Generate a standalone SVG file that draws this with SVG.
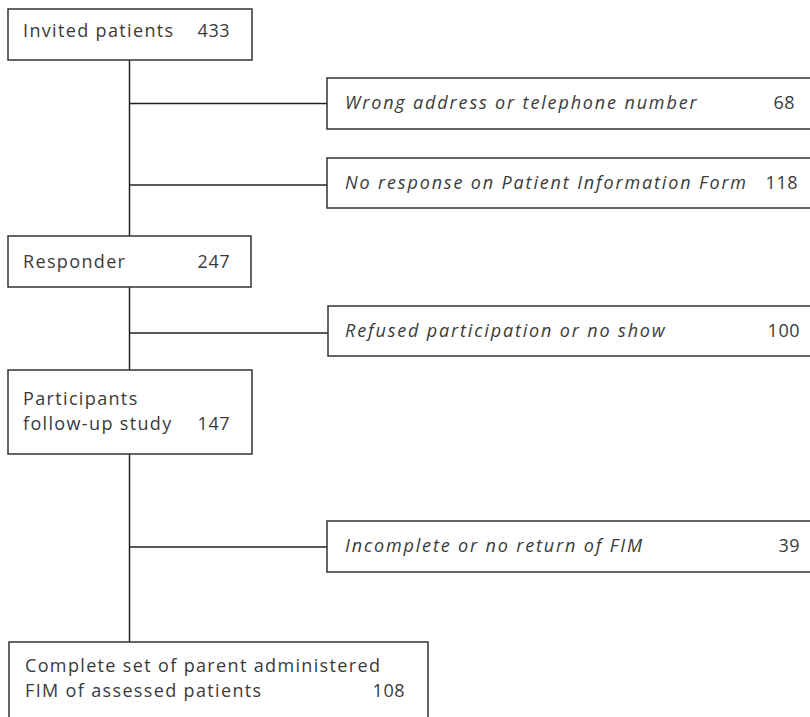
<svg xmlns="http://www.w3.org/2000/svg" width="810" height="717" viewBox="0 0 810 717">
<style>
.box{fill:#fff;stroke:#333;stroke-width:1.5}
.t{font-family:"Open Sans","Noto Sans","Liberation Sans",sans-serif;font-size:18px;letter-spacing:1.35px;fill:#3a3a3a}
.i{font-style:italic;letter-spacing:1.85px}
.n{text-anchor:end;letter-spacing:0.5px}
.c{stroke:#222;stroke-width:1.5;fill:none}
</style>
<rect width="810" height="717" fill="#fff"/>
<g id="connectors">
<line class="c" x1="129.5" y1="60" x2="129.5" y2="236"/>
<line class="c" x1="129.5" y1="103.5" x2="327" y2="103.5"/>
<line class="c" x1="129.5" y1="185" x2="327" y2="185"/>
<line class="c" x1="129.5" y1="287" x2="129.5" y2="370"/>
<line class="c" x1="129.5" y1="333" x2="328" y2="333"/>
<line class="c" x1="129.5" y1="454" x2="129.5" y2="642"/>
<line class="c" x1="129.5" y1="547" x2="327" y2="547"/>
</g>
<g id="invited">
<rect class="box" x="8" y="9" width="244" height="51"/>
<text class="t" x="23" y="37">Invited patients</text>
<text class="t n" x="230" y="37">433</text>
</g>
<g id="wrong-address">
<rect class="box" x="327" y="78" width="500" height="51"/>
<text class="t i" x="345" y="109">Wrong address or telephone number</text>
<text class="t n" x="795" y="109">68</text>
</g>
<g id="no-response">
<rect class="box" x="327" y="158" width="500" height="50"/>
<text class="t i" x="345" y="189">No response on Patient Information Form</text>
<text class="t n" x="798" y="189">118</text>
</g>
<g id="responder">
<rect class="box" x="8" y="236" width="243" height="51"/>
<text class="t" x="23" y="268">Responder</text>
<text class="t n" x="230" y="268">247</text>
</g>
<g id="refused">
<rect class="box" x="328" y="306" width="500" height="50"/>
<text class="t i" x="345" y="337">Refused participation or no show</text>
<text class="t n" x="800" y="337">100</text>
</g>
<g id="participants">
<rect class="box" x="8" y="370" width="244" height="84"/>
<text class="t" x="23" y="405">Participants</text>
<text class="t" x="23" y="430">follow-up study</text>
<text class="t n" x="230" y="430">147</text>
</g>
<g id="incomplete">
<rect class="box" x="327" y="521" width="500" height="51"/>
<text class="t i" x="345" y="552">Incomplete or no return of FIM</text>
<text class="t n" x="800" y="552">39</text>
</g>
<g id="complete">
<rect class="box" x="9" y="642" width="419" height="100"/>
<text class="t" x="25" y="672">Complete set of parent administered</text>
<text class="t" x="25" y="697">FIM of assessed patients</text>
<text class="t n" x="405" y="697">108</text>
</g>
</svg>
